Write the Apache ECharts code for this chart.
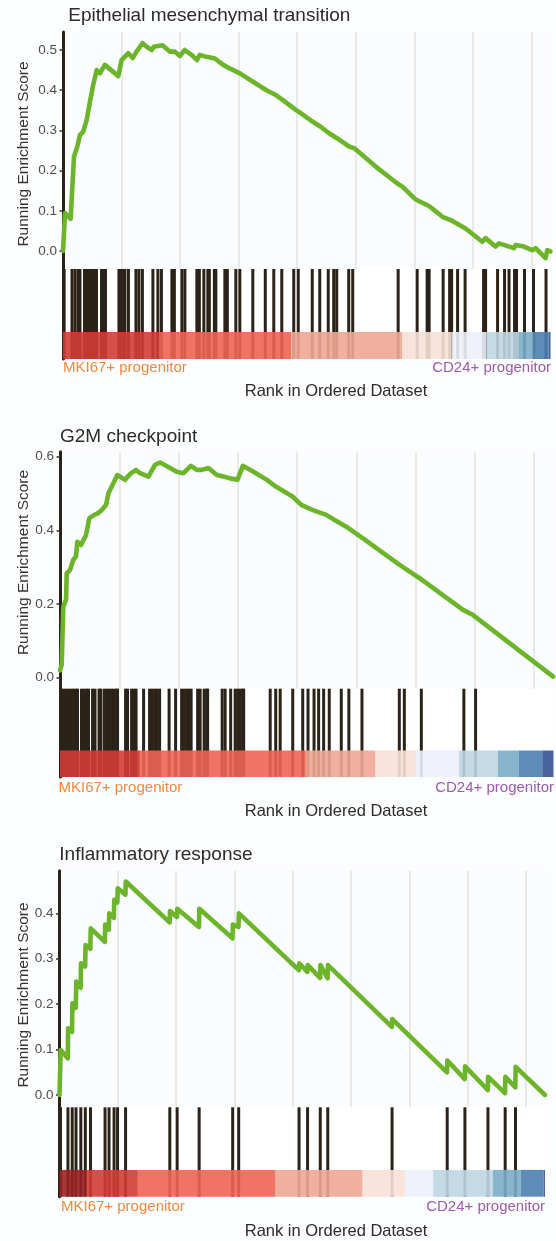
<!DOCTYPE html>
<html><head><meta charset="utf-8">
<script src="https://cdn.jsdelivr.net/npm/echarts@6/dist/echarts.min.js"></script>
<style>html,body{margin:0;padding:0;background:#fcfdfe;}#c{width:556px;height:1241px;}</style>
</head><body><div id="c"></div>
<script>
// ---------------- data ----------------
const nGenes = 16650;
const rankStep = 2000;
const titles = ['Epithelial mesenchymal transition', 'G2M checkpoint', 'Inflammatory response'];
const leftLabel = 'MKI67+ progenitor';
const rightLabel = 'CD24+ progenitor';
const xTitle = 'Rank in Ordered Dataset';
const yTitle = 'Running Enrichment Score';

const yTicks1 = [0, 0.1, 0.2, 0.3, 0.4, 0.5];
const yTicks2 = [0, 0.2, 0.4, 0.6];
const yTicks3 = [0, 0.1, 0.2, 0.3, 0.4];

const es1 = [[0,0],[70,0.094],[260,0.08],[375,0.235],[490,0.26],[580,0.289],[690,0.297],[810,0.326],[920,0.371],[1030,0.413],[1150,0.45],[1260,0.442],[1430,0.463],[1890,0.435],[2000,0.475],[2230,0.492],[2380,0.48],[2510,0.496],[2720,0.517],[2860,0.508],[3030,0.5],[3100,0.508],[3400,0.512],[3650,0.496],[3820,0.496],[3990,0.485],[4160,0.5],[4390,0.488],[4580,0.475],[4670,0.488],[4900,0.483],[5190,0.479],[5470,0.463],[5700,0.454],[5870,0.448],[6040,0.442],[6490,0.421],[6950,0.4],[7270,0.388],[7500,0.376],[7950,0.351],[8120,0.343],[8520,0.322],[8800,0.309],[9090,0.293],[9370,0.28],[9770,0.26],[9940,0.256],[10680,0.21],[11420,0.168],[11590,0.16],[12050,0.128],[12500,0.112],[12960,0.085],[13240,0.077],[13750,0.056],[14320,0.023],[14430,0.032],[14770,0.011],[14890,0.019],[15400,0.007],[15460,0.015],[15740,0.011],[16030,0.002],[16140,0.007],[16480,-0.018],[16540,0.002],[16650,-0.001]];
const hits1 = [40,307,409,512,580,734,819,904,990,1075,1143,1314,1399,1450,1911,1996,2081,2115,2235,2491,2593,2712,3071,3241,3361,3719,3804,4060,4163,4572,4657,4811,4947,4998,5169,5220,5528,5613,5903,6040,6483,6909,7199,7472,7881,8035,8513,8769,9059,9246,9349,9758,9895,11447,12096,12437,12505,12983,13204,13273,13477,13733,14364,14433,14842,15081,15234,15422,15490,15763,16070,16497];
const bandBreaks1 = [0,3300,7797,11590,13273,14467,15549,16081,16593,16650];
const bandLevels1 = [1,2,3,4,5,6,7,8,9];

const es2 = [[0,0.02],[57,0.034],[111,0.193],[203,0.211],[226,0.283],[338,0.292],[449,0.32],[540,0.329],[584,0.369],[709,0.36],[878,0.387],[989,0.433],[1158,0.442],[1273,0.446],[1408,0.455],[1553,0.469],[1631,0.5],[1800,0.528],[1935,0.55],[2195,0.537],[2364,0.553],[2567,0.564],[2702,0.555],[2982,0.546],[3208,0.578],[3377,0.584],[3715,0.569],[3941,0.559],[4164,0.555],[4414,0.575],[4616,0.564],[4785,0.564],[5008,0.569],[5292,0.55],[5515,0.546],[5741,0.541],[5987,0.537],[6170,0.575],[6528,0.559],[6980,0.537],[7294,0.518],[7463,0.51],[7858,0.491],[8139,0.469],[8534,0.455],[8983,0.442],[9263,0.428],[9658,0.41],[10222,0.378],[11458,0.306],[11684,0.294],[12133,0.27],[13599,0.184],[13937,0.17],[16638,0.003]];
const hits2 = [34,118,203,287,371,456,540,591,726,810,895,962,1098,1182,1317,1368,1486,1570,1655,1739,1824,1908,1942,2212,2279,2415,2499,2567,2820,3022,3107,3191,3276,3360,3681,3900,4103,4187,4272,4356,4424,4643,4728,4863,4947,4981,5471,5572,5758,5910,5994,6079,6163,6197,7092,7278,7429,7852,8189,8368,8571,8726,8895,9084,9490,9746,10188,11448,11617,12191,13626,14021];
const bandBreaks2 = [0,2702,8297,10644,12008,13457,14774,15480,16270,16650];
const bandLevels2 = [1,2,3,4,5,6,7,8,9];

const es3 = [[0,0],[41,0.099],[285,0.081],[295,0.147],[429,0.139],[443,0.202],[560,0.192],[573,0.25],[724,0.236],[738,0.29],[879,0.283],[893,0.33],[1057,0.322],[1071,0.367],[1555,0.337],[1569,0.375],[1692,0.364],[1706,0.4],[1864,0.39],[1878,0.43],[1984,0.424],[1998,0.455],[2259,0.441],[2273,0.47],[3776,0.38],[3790,0.405],[4027,0.392],[4041,0.41],[4782,0.37],[4796,0.41],[5932,0.345],[5946,0.375],[6138,0.37],[6152,0.4],[8208,0.275],[8222,0.29],[8500,0.271],[8514,0.286],[8936,0.258],[8950,0.286],[9194,0.257],[9207,0.286],[11398,0.15],[11411,0.167],[13289,0.05],[13303,0.076],[13897,0.035],[13911,0.063],[14687,0.011],[14700,0.04],[15277,0.004],[15291,0.04],[15631,0.017],[15644,0.062],[16650,0.0]];
const hits3 = [34,290,436,566,731,886,1064,1562,1699,1871,1991,2266,3783,4034,4789,5939,6145,8215,8507,8943,9200,11405,13296,13904,14694,15284,15638];
const bandBreaks3 = [0,923,2688,7412,10395,11844,12815,14861,15812,16602,16650];
const bandLevels3 = [0,1,2,3,4,5,6,7,8,9];

// ---------------- style / layout ----------------
const palette = ['#9b2124','#d13c34','#ee6453','#f0a795','#f7e1d6','#ecf0f9','#bed6e2','#7badc6','#4c80b0','#365395'];
const FONT = 'Liberation Sans, Arial, Helvetica, sans-serif';
const DARK = '#2c2318';
const bandFrac = 0.3;
const layout = [
  {left:63, width:487.5, esTop:32, esH:237, hitH:90, yMin:-0.0448, yMax:0.5448, titleX:68.3, titleY:16.2, yTitleY:154, labelY:368.3, labelL:63, labelR:551, xTitleX:336, xTitleY:391.7},
  {left:60, width:493.5, esTop:451.7, esH:237, hitH:88.3, yMin:-0.0299, yMax:0.6134, titleX:60, titleY:436.8, yTitleY:562.5, labelY:788.3, labelL:58.5, labelR:554, xTitleX:336, xTitleY:811.7},
  {left:59.5, width:485.5, esTop:870.7, esH:236.6, hitH:89.4, yMin:-0.0271, yMax:0.4938, titleX:59.3, titleY:855.2, yTitleY:995, labelY:1206.7, labelL:61, labelR:545, xTitleX:336, xTitleY:1231.7}
];
const panels = [
  {es:es1, hits:hits1, breaks:bandBreaks1, levels:bandLevels1, ticks:yTicks1},
  {es:es2, hits:hits2, breaks:bandBreaks2, levels:bandLevels2, ticks:yTicks2},
  {es:es3, hits:hits3, breaks:bandBreaks3, levels:bandLevels3, ticks:yTicks3}
];

const grid = [], xAxis = [], yAxis = [], series = [], graphic = [];
panels.forEach((p, i) => {
  const L = layout[i];
  const gE = 2 * i, gH = 2 * i + 1;
  grid.push({left:L.left, top:L.esTop, width:L.width, height:L.esH, show:true, backgroundColor:'#fbfcfe', borderWidth:0});
  grid.push({left:L.left, top:L.esTop + L.esH, width:L.width, height:L.hitH, show:true, backgroundColor:'#ffffff', borderWidth:0});
  xAxis.push({gridIndex:gE, type:'value', min:0, max:nGenes, interval:rankStep,
    axisLine:{show:false}, axisTick:{show:false}, axisLabel:{show:false},
    splitLine:{show:true, showMinLine:false, showMaxLine:false, lineStyle:{color:'#e9e9e9', width:2}}});
  xAxis.push({gridIndex:gH, type:'value', min:0, max:nGenes, show:false});
  yAxis.push({gridIndex:gE, type:'value', min:L.yMin, max:L.yMax,
    axisLine:{show:true, onZero:false, lineStyle:{color:DARK, width:3}},
    axisTick:{show:true, length:3.5, customValues:p.ticks, lineStyle:{color:'#333333', width:1.5}},
    axisLabel:{show:true, customValues:p.ticks, formatter:v => v.toFixed(1), color:'#4d4d4d', fontSize:13.5, fontFamily:FONT, margin:6},
    splitLine:{show:false}});
  yAxis.push({gridIndex:gH, type:'value', min:0, max:1,
    axisLine:{show:true, onZero:false, lineStyle:{color:DARK, width:3}},
    axisTick:{show:false}, axisLabel:{show:false}, splitLine:{show:false}});

  series.push({type:'line', xAxisIndex:gE, yAxisIndex:gE, data:p.es, showSymbol:false, symbol:'none', clip:false, z:5,
    lineStyle:{color:'#6cb52b', width:4.6, join:'round', cap:'round'}});
  series.push({type:'custom', xAxisIndex:gH, yAxisIndex:gH, z:2, silent:true,
    data:p.hits.map(r => [r, 1]),
    renderItem:(params, api) => {
      const r = api.value(0);
      const a = api.coord([r, 0]), b = api.coord([r, 1]);
      return {type:'line', shape:{x1:a[0], y1:a[1], x2:b[0], y2:b[1]}, style:{stroke:DARK, lineWidth:3}};
    }});
  const segs = p.levels.map((lv, k) => [p.breaks[k], p.breaks[k + 1], lv]);
  series.push({type:'custom', xAxisIndex:gH, yAxisIndex:gH, z:3, silent:true,
    data:segs, encode:{x:[0,1]},
    renderItem:(params, api) => {
      const s = api.value(0), e = api.value(1), lv = api.value(2);
      const a = api.coord([s, 0]), b = api.coord([e, bandFrac]);
      return {type:'rect', shape:{x:a[0], y:b[1], width:b[0] - a[0], height:a[1] - b[1]}, style:{fill:palette[lv], opacity:0.9}};
    }});

  graphic.push({type:'text', x:L.titleX, y:L.titleY, style:{text:titles[i], fontSize:19, fontFamily:FONT, fill:'#2b2b2b', align:'left', verticalAlign:'middle'}});
  graphic.push({type:'text', x:24, y:L.yTitleY, rotation:Math.PI / 2, style:{text:yTitle, fontSize:15.5, fontFamily:FONT, fill:'#333333', align:'center', verticalAlign:'middle'}});
  graphic.push({type:'text', x:L.labelL, y:L.labelY, style:{text:leftLabel, fontSize:15, fontFamily:FONT, fill:'#f0883e', align:'left', verticalAlign:'middle'}});
  graphic.push({type:'text', x:L.labelR, y:L.labelY, style:{text:rightLabel, fontSize:15, fontFamily:FONT, fill:'#9e5bae', align:'right', verticalAlign:'middle'}});
  graphic.push({type:'text', x:L.xTitleX, y:L.xTitleY, style:{text:xTitle, fontSize:16.5, fontFamily:FONT, fill:'#2b2b2b', align:'center', verticalAlign:'middle'}});
});

const chart = echarts.init(document.getElementById('c'), null, {renderer:'canvas'});
chart.setOption({animation:false, backgroundColor:'#fcfdfe', grid, xAxis, yAxis, series, graphic});
</script>
</body></html>
